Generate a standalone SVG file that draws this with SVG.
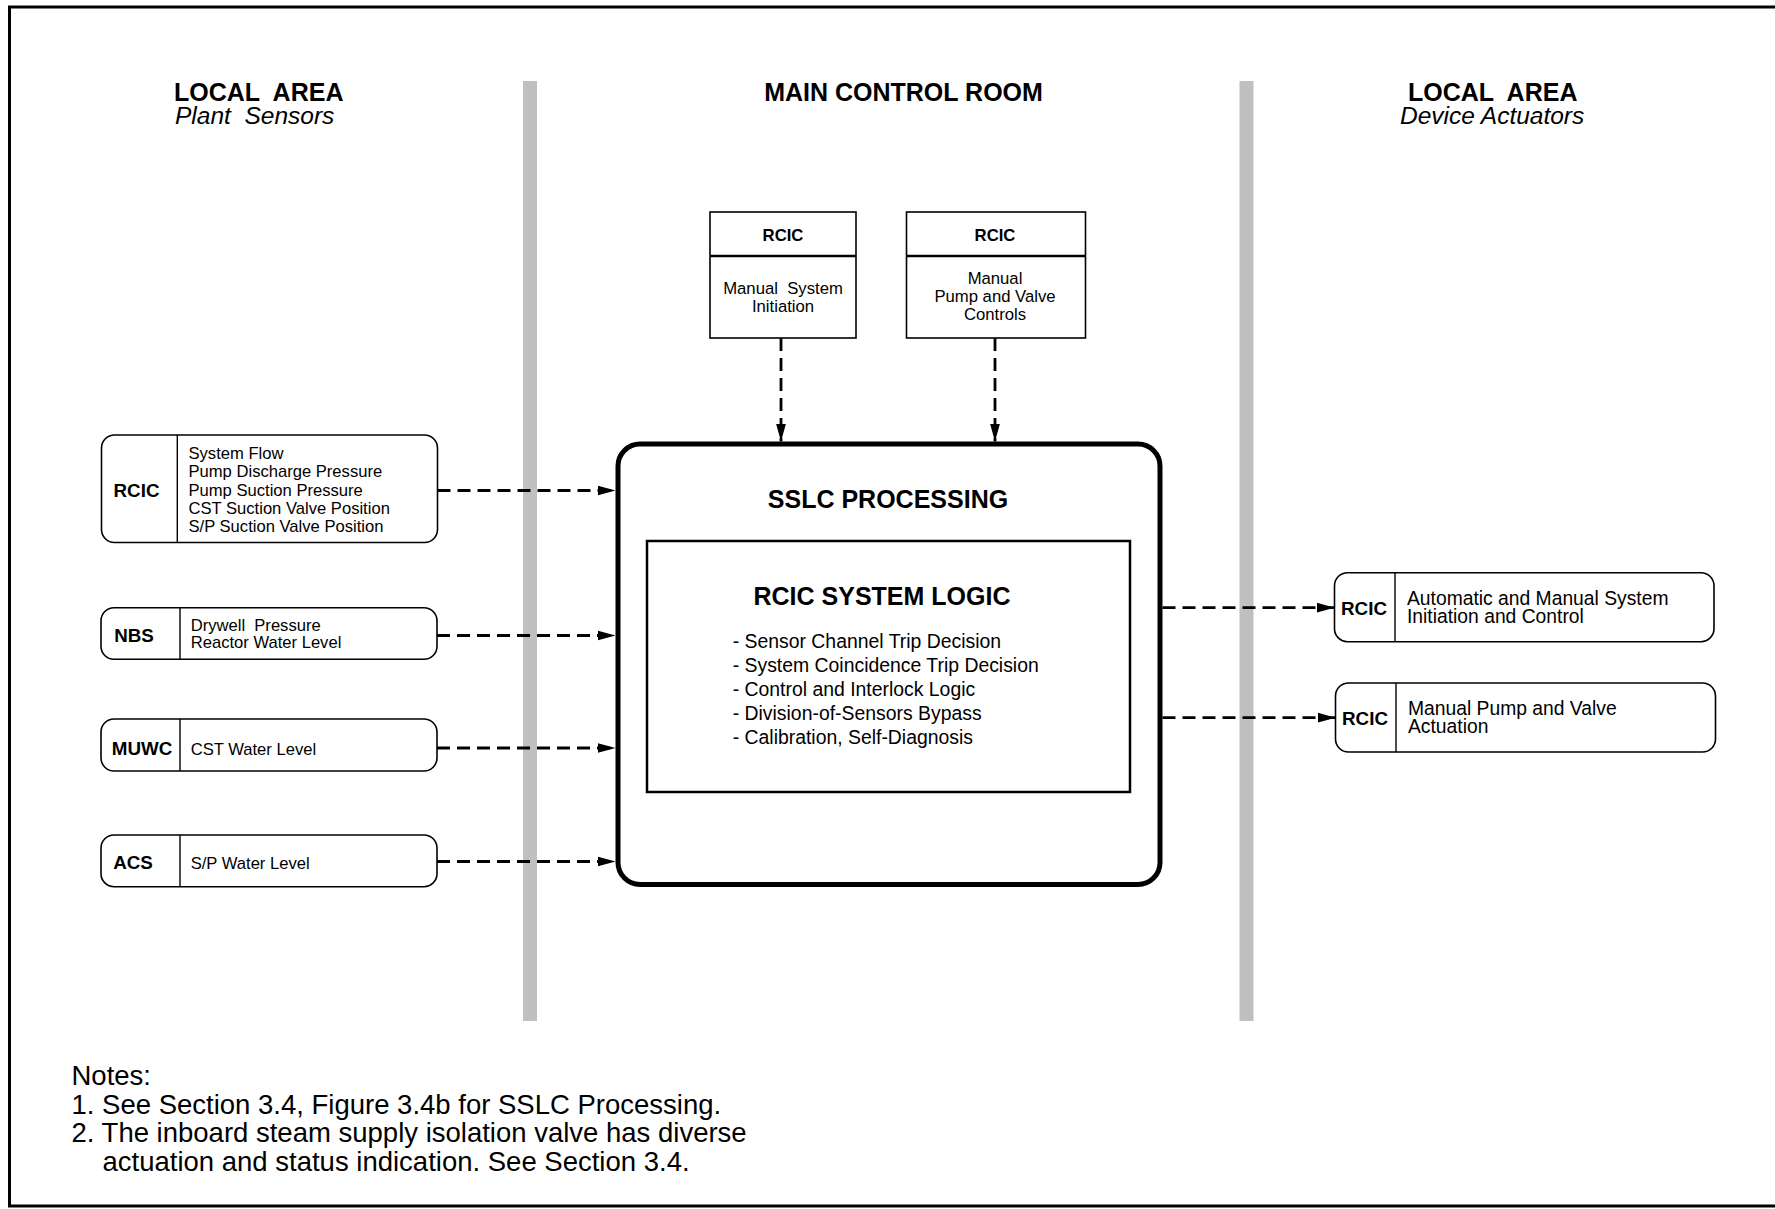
<svg xmlns="http://www.w3.org/2000/svg" width="1775" height="1209" viewBox="0 0 1775 1209">
<defs>
<marker id="ah" markerUnits="userSpaceOnUse" markerWidth="19" markerHeight="11" refX="18" refY="5.5" orient="auto"><path d="M0,0.5 L18,5.5 L0,10.5 z" fill="#000"/></marker>
</defs>
<style>
text{font-family:"Liberation Sans",Arial,Helvetica,sans-serif;fill:#000}
.h{font-size:25px;font-weight:bold}
.hi{font-size:24.5px;font-style:italic}
.lb{font-size:18.8px;font-weight:bold}
.tb{font-size:16.7px;font-weight:bold}
.t16{font-size:16.6px}
.t17{font-size:16.7px}
.t19{font-size:19.3px}
.tl{font-size:19.4px}
.b25{font-size:25px;font-weight:bold}
.note{font-size:27.5px}
.node{fill:#fff;stroke:#000;stroke-width:1.6}
.div{stroke:#000;stroke-width:1.4}
.bar{fill:#c0c0c0}
.conn{fill:none;stroke:#000;stroke-width:2.8;stroke-dasharray:13 7;marker-end:url(#ah)}
.mid{text-anchor:middle}
</style>
<rect x="0" y="0" width="1775" height="1209" fill="#fff"/>
<path d="M1790,7 H9.5 V1206 H1790" fill="none" stroke="#000" stroke-width="3"/>
<g id="zones">
<rect class="bar" x="523" y="81" width="14" height="940"/>
<rect class="bar" x="1239.5" y="81" width="14" height="940"/>
<text class="h" x="174" y="101" xml:space="preserve">LOCAL  AREA</text>
<text class="hi" x="175" y="124" xml:space="preserve">Plant  Sensors</text>
<text class="h mid" x="903.5" y="101">MAIN CONTROL ROOM</text>
<text class="h" x="1408" y="101" xml:space="preserve">LOCAL  AREA</text>
<text class="hi" x="1400" y="124">Device Actuators</text>
</g>
<g id="connectors">
<line class="conn" x1="781" y1="338" x2="781" y2="441.5"/>
<line class="conn" x1="995" y1="338" x2="995" y2="441.5"/>
<line class="conn" x1="437.5" y1="490.5" x2="615.5" y2="490.5"/>
<line class="conn" x1="437" y1="635.5" x2="615.5" y2="635.5"/>
<line class="conn" x1="437" y1="748" x2="615.5" y2="748"/>
<line class="conn" x1="437" y1="861.5" x2="615.5" y2="861.5"/>
<line class="conn" x1="1162.5" y1="607.7" x2="1334.5" y2="607.7"/>
<line class="conn" x1="1162.5" y1="717.7" x2="1335.5" y2="717.7"/>
</g>
<g id="manual-init">
<rect class="node" x="710" y="212" width="146" height="126"/>
<line x1="710" y1="256" x2="856" y2="256" stroke="#000" stroke-width="2.4"/>
<text class="tb mid" x="783" y="240.5">RCIC</text>
<text class="t17 mid" x="783" y="293.5" xml:space="preserve">Manual  System</text>
<text class="t17 mid" x="783" y="311.5">Initiation</text>
</g>
<g id="manual-pump">
<rect class="node" x="906.5" y="212" width="179" height="126"/>
<line x1="906.5" y1="256" x2="1085.5" y2="256" stroke="#000" stroke-width="2.4"/>
<text class="tb mid" x="995" y="240.5">RCIC</text>
<text class="t17 mid" x="995" y="283.5">Manual</text>
<text class="t17 mid" x="995" y="301.5">Pump and Valve</text>
<text class="t17 mid" x="995" y="320">Controls</text>
</g>
<g id="sslc">
<rect x="618" y="444" width="542" height="440.5" rx="22" fill="none" stroke="#000" stroke-width="5"/>
<text class="b25 mid" x="888" y="508">SSLC PROCESSING</text>
<rect x="647" y="541" width="483" height="251" fill="none" stroke="#000" stroke-width="2.5"/>
<text class="b25 mid" x="882" y="605">RCIC SYSTEM LOGIC</text>
<text class="tl" x="732.7" y="648.3">- Sensor Channel Trip Decision</text>
<text class="tl" x="732.7" y="672.3">- System Coincidence Trip Decision</text>
<text class="tl" x="732.7" y="696">- Control and Interlock Logic</text>
<text class="tl" x="732.7" y="720">- Division-of-Sensors Bypass</text>
<text class="tl" x="732.7" y="743.5">- Calibration, Self-Diagnosis</text>
</g>
<g id="rcic-sensors">
<rect class="node" x="101.5" y="435" width="336" height="107.5" rx="13"/>
<line class="div" x1="177.3" y1="435" x2="177.3" y2="542.5"/>
<text class="lb mid" x="136.5" y="497">RCIC</text>
<text class="t16" x="188.5" y="459">System Flow</text>
<text class="t16" x="188.5" y="477.3">Pump Discharge Pressure</text>
<text class="t16" x="188.5" y="495.5">Pump Suction Pressure</text>
<text class="t16" x="188.5" y="513.7">CST Suction Valve Position</text>
<text class="t16" x="188.5" y="531.8">S/P Suction Valve Position</text>
</g>
<g id="nbs">
<rect class="node" x="101" y="607.7" width="336" height="51.6" rx="13"/>
<line class="div" x1="180" y1="607.7" x2="180" y2="659.3"/>
<text class="lb mid" x="134" y="641.7">NBS</text>
<text class="t16" x="190.7" y="630.5" xml:space="preserve">Drywell  Pressure</text>
<text class="t16" x="190.7" y="648.3">Reactor Water Level</text>
</g>
<g id="muwc">
<rect class="node" x="101" y="719" width="336" height="52" rx="13"/>
<line class="div" x1="180" y1="719" x2="180" y2="771"/>
<text class="lb mid" x="142" y="754.5">MUWC</text>
<text class="t16" x="190.7" y="754.5">CST Water Level</text>
</g>
<g id="acs">
<rect class="node" x="101" y="835" width="336" height="51.7" rx="13"/>
<line class="div" x1="180" y1="835" x2="180" y2="886.7"/>
<text class="lb mid" x="133" y="868.5">ACS</text>
<text class="t16" x="190.7" y="868.5">S/P Water Level</text>
</g>
<g id="rcic-auto">
<rect class="node" x="1334.5" y="572.7" width="379.5" height="69" rx="13"/>
<line class="div" x1="1395" y1="572.7" x2="1395" y2="641.7"/>
<text class="lb mid" x="1364" y="614.5">RCIC</text>
<text class="t19" x="1407" y="605">Automatic and Manual System</text>
<text class="t19" x="1407" y="623">Initiation and Control</text>
</g>
<g id="rcic-actuation">
<rect class="node" x="1335.5" y="683" width="380" height="69" rx="13"/>
<line class="div" x1="1396" y1="683" x2="1396" y2="752"/>
<text class="lb mid" x="1365" y="725">RCIC</text>
<text class="t19" x="1408" y="715">Manual Pump and Valve</text>
<text class="t19" x="1408" y="732.7">Actuation</text>
</g>
<g id="notes">
<text class="note" x="71.5" y="1085">Notes:</text>
<text class="note" x="71.5" y="1113.5">1. See Section 3.4, Figure 3.4b for SSLC Processing.</text>
<text class="note" x="71.5" y="1142">2. The inboard steam supply isolation valve has diverse</text>
<text class="note" x="102.5" y="1170.5">actuation and status indication. See Section 3.4.</text>
</g>
</svg>
